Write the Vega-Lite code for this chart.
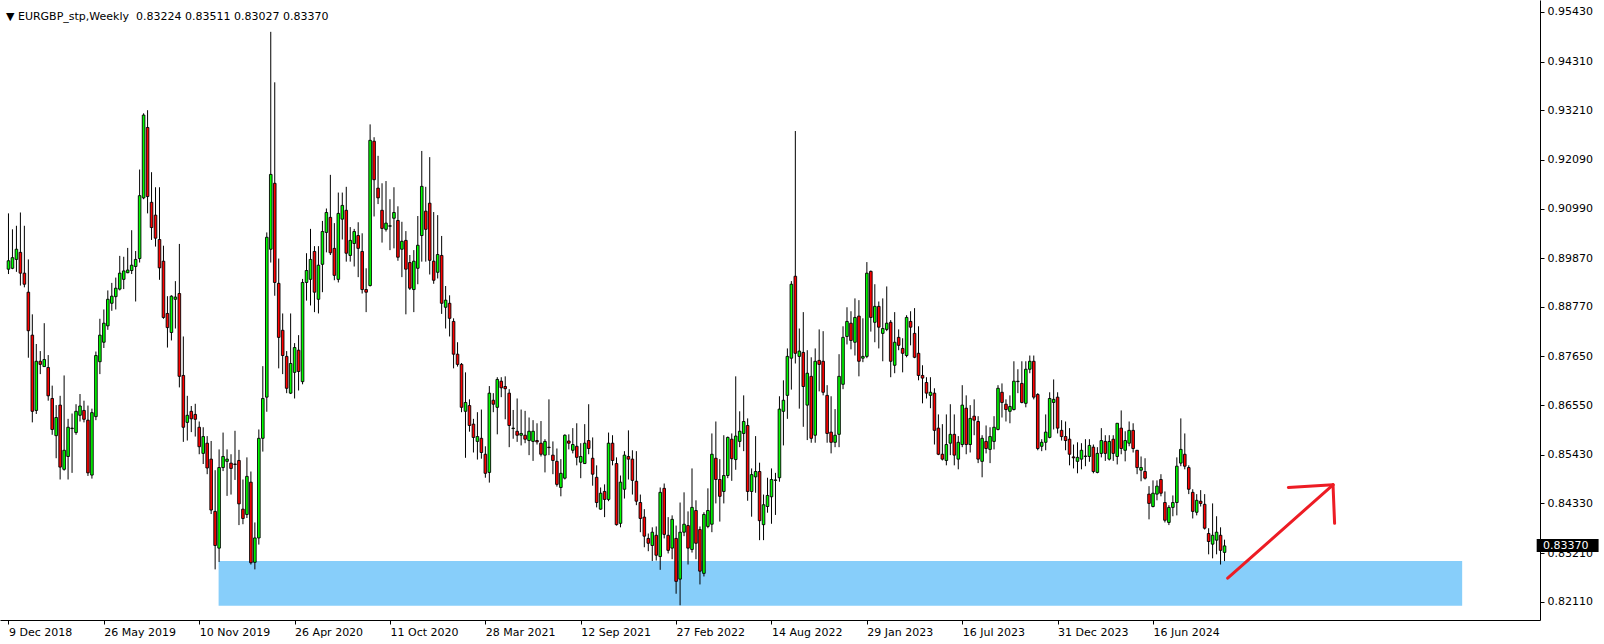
{
  "$schema": "https://vega.github.io/schema/vega-lite/v6.json",
  "width": 1540,
  "height": 620,
  "autosize": {"type": "none"},
  "padding": {"left": 0, "top": 0, "right": 64, "bottom": 24},
  "background": "white",
  "config": {"view": {"stroke": null}},
  "title": {"text": "▼ EURGBP_stp,Weekly\u00a0 0.83224 0.83511 0.83027 0.83370", "anchor": "start", "frame": "group", "orient": "top", "offset": -17, "dx": 6, "dy": 14, "font": "DejaVu Sans", "fontSize": 11, "fontWeight": "normal", "color": "black", "baseline": "alphabetic"},
  "datasets": {
    "candles": [
{"d":"2018-12-09","o":0.8962,"h":0.9088,"l":0.8951,"c":0.8981},
{"d":"2018-12-16","o":0.8964,"h":0.9052,"l":0.8962,"c":0.8988},
{"d":"2018-12-23","o":0.8984,"h":0.9060,"l":0.8956,"c":0.9007},
{"d":"2018-12-30","o":0.9000,"h":0.9090,"l":0.8925,"c":0.8953},
{"d":"2019-01-06","o":0.8953,"h":0.9060,"l":0.8921,"c":0.8928},
{"d":"2019-01-13","o":0.8910,"h":0.8984,"l":0.8762,"c":0.8823},
{"d":"2019-01-20","o":0.8813,"h":0.8860,"l":0.8616,"c":0.8641},
{"d":"2019-01-27","o":0.8643,"h":0.8793,"l":0.8635,"c":0.8754},
{"d":"2019-02-03","o":0.8754,"h":0.8777,"l":0.8725,"c":0.8747},
{"d":"2019-02-10","o":0.8742,"h":0.8840,"l":0.8742,"c":0.8758},
{"d":"2019-02-17","o":0.8740,"h":0.8768,"l":0.8665,"c":0.8676},
{"d":"2019-02-24","o":0.8670,"h":0.8699,"l":0.8588,"c":0.8600},
{"d":"2019-03-03","o":0.8586,"h":0.8655,"l":0.8535,"c":0.8627},
{"d":"2019-03-10","o":0.8655,"h":0.8676,"l":0.8487,"c":0.8515},
{"d":"2019-03-17","o":0.8510,"h":0.8722,"l":0.8507,"c":0.8553},
{"d":"2019-03-24","o":0.8539,"h":0.8624,"l":0.8487,"c":0.8605},
{"d":"2019-03-31","o":0.8602,"h":0.8636,"l":0.8502,"c":0.8603},
{"d":"2019-04-07","o":0.8593,"h":0.8657,"l":0.8588,"c":0.8641},
{"d":"2019-04-14","o":0.8632,"h":0.8680,"l":0.8618,"c":0.8653},
{"d":"2019-04-21","o":0.8643,"h":0.8665,"l":0.8616,"c":0.8623},
{"d":"2019-04-28","o":0.8621,"h":0.8654,"l":0.8495,"c":0.8502},
{"d":"2019-05-05","o":0.8497,"h":0.8647,"l":0.8489,"c":0.8638},
{"d":"2019-05-12","o":0.8629,"h":0.8776,"l":0.8621,"c":0.8767},
{"d":"2019-05-19","o":0.8753,"h":0.8850,"l":0.8725,"c":0.8813},
{"d":"2019-05-26","o":0.8797,"h":0.8871,"l":0.8784,"c":0.8840},
{"d":"2019-06-02","o":0.8834,"h":0.8914,"l":0.8825,"c":0.8894},
{"d":"2019-06-09","o":0.8885,"h":0.8931,"l":0.8868,"c":0.8901},
{"d":"2019-06-16","o":0.8900,"h":0.8943,"l":0.8871,"c":0.8919},
{"d":"2019-06-23","o":0.8917,"h":0.8992,"l":0.8914,"c":0.8953},
{"d":"2019-06-30","o":0.8939,"h":0.8990,"l":0.8917,"c":0.8958},
{"d":"2019-07-07","o":0.8954,"h":0.9010,"l":0.8953,"c":0.8960},
{"d":"2019-07-14","o":0.8959,"h":0.9050,"l":0.8951,"c":0.8971},
{"d":"2019-07-21","o":0.8968,"h":0.9003,"l":0.8889,"c":0.8984},
{"d":"2019-07-28","o":0.8986,"h":0.9187,"l":0.8977,"c":0.9128},
{"d":"2019-08-04","o":0.9123,"h":0.9314,"l":0.9120,"c":0.9310},
{"d":"2019-08-11","o":0.9282,"h":0.9321,"l":0.9088,"c":0.9126},
{"d":"2019-08-18","o":0.9113,"h":0.9181,"l":0.9028,"c":0.9056},
{"d":"2019-08-25","o":0.9084,"h":0.9147,"l":0.9013,"c":0.9032},
{"d":"2019-09-01","o":0.9029,"h":0.9147,"l":0.8938,"c":0.8965},
{"d":"2019-09-08","o":0.8980,"h":0.9015,"l":0.8850,"c":0.8853},
{"d":"2019-09-15","o":0.8862,"h":0.8901,"l":0.8785,"c":0.8830},
{"d":"2019-09-22","o":0.8819,"h":0.8903,"l":0.8801,"c":0.8901},
{"d":"2019-09-29","o":0.8894,"h":0.8935,"l":0.8828,"c":0.8899},
{"d":"2019-10-06","o":0.8907,"h":0.9019,"l":0.8695,"c":0.8720},
{"d":"2019-10-13","o":0.8722,"h":0.8810,"l":0.8572,"c":0.8605},
{"d":"2019-10-20","o":0.8616,"h":0.8676,"l":0.8575,"c":0.8632},
{"d":"2019-10-27","o":0.8641,"h":0.8653,"l":0.8594,"c":0.8624},
{"d":"2019-11-03","o":0.8634,"h":0.8658,"l":0.8584,"c":0.8623},
{"d":"2019-11-10","o":0.8605,"h":0.8618,"l":0.8544,"c":0.8561},
{"d":"2019-11-17","o":0.8546,"h":0.8605,"l":0.8522,"c":0.8584},
{"d":"2019-11-24","o":0.8569,"h":0.8585,"l":0.8499,"c":0.8513},
{"d":"2019-12-01","o":0.8533,"h":0.8574,"l":0.8409,"c":0.8418},
{"d":"2019-12-08","o":0.8415,"h":0.8508,"l":0.8284,"c":0.8338},
{"d":"2019-12-15","o":0.8332,"h":0.8555,"l":0.8301,"c":0.8514},
{"d":"2019-12-22","o":0.8514,"h":0.8593,"l":0.8506,"c":0.8539},
{"d":"2019-12-29","o":0.8528,"h":0.8555,"l":0.8450,"c":0.8533},
{"d":"2020-01-05","o":0.8524,"h":0.8544,"l":0.8453,"c":0.8512},
{"d":"2020-01-12","o":0.8522,"h":0.8597,"l":0.8486,"c":0.8521},
{"d":"2020-01-19","o":0.8530,"h":0.8554,"l":0.8384,"c":0.8432},
{"d":"2020-01-26","o":0.8420,"h":0.8487,"l":0.8386,"c":0.8399},
{"d":"2020-02-02","o":0.8408,"h":0.8537,"l":0.8400,"c":0.8494},
{"d":"2020-02-09","o":0.8481,"h":0.8505,"l":0.8295,"c":0.8299},
{"d":"2020-02-16","o":0.8300,"h":0.8390,"l":0.8284,"c":0.8355},
{"d":"2020-02-23","o":0.8355,"h":0.8600,"l":0.8340,"c":0.8580},
{"d":"2020-03-01","o":0.8580,"h":0.8743,"l":0.8550,"c":0.8670},
{"d":"2020-03-08","o":0.8673,"h":0.9045,"l":0.8640,"c":0.9034},
{"d":"2020-03-15","o":0.9007,"h":0.9498,"l":0.8977,"c":0.9176},
{"d":"2020-03-22","o":0.9156,"h":0.9384,"l":0.8902,"c":0.8932},
{"d":"2020-03-29","o":0.8930,"h":0.8986,"l":0.8738,"c":0.8808},
{"d":"2020-04-05","o":0.8824,"h":0.8862,"l":0.8725,"c":0.8767},
{"d":"2020-04-12","o":0.8765,"h":0.8777,"l":0.8682,"c":0.8693},
{"d":"2020-04-19","o":0.8682,"h":0.8862,"l":0.8680,"c":0.8749},
{"d":"2020-04-26","o":0.8729,"h":0.8795,"l":0.8670,"c":0.8785},
{"d":"2020-05-03","o":0.8779,"h":0.8813,"l":0.8688,"c":0.8731},
{"d":"2020-05-10","o":0.8708,"h":0.8940,"l":0.8702,"c":0.8932},
{"d":"2020-05-17","o":0.8932,"h":0.8998,"l":0.8891,"c":0.8959},
{"d":"2020-05-24","o":0.8939,"h":0.9053,"l":0.8880,"c":0.8984},
{"d":"2020-05-31","o":0.9002,"h":0.9014,"l":0.8865,"c":0.8910},
{"d":"2020-06-07","o":0.8894,"h":0.9014,"l":0.8862,"c":0.8971},
{"d":"2020-06-14","o":0.8973,"h":0.9071,"l":0.8910,"c":0.9047},
{"d":"2020-06-21","o":0.9045,"h":0.9099,"l":0.9000,"c":0.9090},
{"d":"2020-06-28","o":0.9079,"h":0.9175,"l":0.8994,"c":0.8999},
{"d":"2020-07-05","o":0.9009,"h":0.9066,"l":0.8937,"c":0.8948},
{"d":"2020-07-12","o":0.8939,"h":0.9135,"l":0.8932,"c":0.9088},
{"d":"2020-07-19","o":0.9075,"h":0.9135,"l":0.9029,"c":0.9106},
{"d":"2020-07-26","o":0.9095,"h":0.9148,"l":0.8979,"c":0.8998},
{"d":"2020-08-02","o":0.8993,"h":0.9057,"l":0.8979,"c":0.9027},
{"d":"2020-08-09","o":0.9020,"h":0.9053,"l":0.8968,"c":0.9047},
{"d":"2020-08-16","o":0.9038,"h":0.9068,"l":0.8944,"c":0.9009},
{"d":"2020-08-23","o":0.9002,"h":0.9043,"l":0.8907,"c":0.8916},
{"d":"2020-08-30","o":0.8916,"h":0.8964,"l":0.8865,"c":0.8910},
{"d":"2020-09-06","o":0.8925,"h":0.9289,"l":0.8923,"c":0.9253},
{"d":"2020-09-13","o":0.9251,"h":0.9260,"l":0.9081,"c":0.9164},
{"d":"2020-09-20","o":0.9145,"h":0.9218,"l":0.9109,"c":0.9123},
{"d":"2020-09-27","o":0.9095,"h":0.9156,"l":0.9022,"c":0.9054},
{"d":"2020-10-04","o":0.9052,"h":0.9161,"l":0.9047,"c":0.9066},
{"d":"2020-10-11","o":0.9059,"h":0.9120,"l":0.9005,"c":0.9060},
{"d":"2020-10-18","o":0.9077,"h":0.9147,"l":0.9009,"c":0.9090},
{"d":"2020-10-25","o":0.9072,"h":0.9104,"l":0.8981,"c":0.8989},
{"d":"2020-11-01","o":0.9007,"h":0.9069,"l":0.8944,"c":0.9025},
{"d":"2020-11-08","o":0.9027,"h":0.9048,"l":0.8860,"c":0.8962},
{"d":"2020-11-15","o":0.8977,"h":0.8994,"l":0.8915,"c":0.8919},
{"d":"2020-11-22","o":0.8916,"h":0.9005,"l":0.8865,"c":0.8980},
{"d":"2020-11-29","o":0.8964,"h":0.9082,"l":0.8928,"c":0.9016},
{"d":"2020-12-06","o":0.9038,"h":0.9229,"l":0.8979,"c":0.9149},
{"d":"2020-12-13","o":0.9093,"h":0.9148,"l":0.8979,"c":0.9052},
{"d":"2020-12-20","o":0.9111,"h":0.9215,"l":0.8950,"c":0.8982},
{"d":"2020-12-27","o":0.8980,"h":0.9091,"l":0.8929,"c":0.8937},
{"d":"2021-01-03","o":0.8955,"h":0.9084,"l":0.8941,"c":0.8995},
{"d":"2021-01-10","o":0.8993,"h":0.9037,"l":0.8861,"c":0.8885},
{"d":"2021-01-17","o":0.8876,"h":0.8924,"l":0.8828,"c":0.8892},
{"d":"2021-01-24","o":0.8885,"h":0.8903,"l":0.8810,"c":0.8851},
{"d":"2021-01-31","o":0.8844,"h":0.8851,"l":0.8738,"c":0.8770},
{"d":"2021-02-07","o":0.8770,"h":0.8797,"l":0.8742,"c":0.8747},
{"d":"2021-02-14","o":0.8747,"h":0.8750,"l":0.8639,"c":0.8650},
{"d":"2021-02-21","o":0.8641,"h":0.8729,"l":0.8536,"c":0.8661},
{"d":"2021-02-28","o":0.8654,"h":0.8668,"l":0.8595,"c":0.8609},
{"d":"2021-03-07","o":0.8612,"h":0.8624,"l":0.8548,"c":0.8582},
{"d":"2021-03-14","o":0.8573,"h":0.8639,"l":0.8532,"c":0.8584},
{"d":"2021-03-21","o":0.8580,"h":0.8645,"l":0.8534,"c":0.8548},
{"d":"2021-03-28","o":0.8544,"h":0.8562,"l":0.8491,"c":0.8501},
{"d":"2021-04-04","o":0.8503,"h":0.8698,"l":0.8480,"c":0.8682},
{"d":"2021-04-11","o":0.8666,"h":0.8682,"l":0.8639,"c":0.8657},
{"d":"2021-04-18","o":0.8650,"h":0.8718,"l":0.8589,"c":0.8713},
{"d":"2021-04-25","o":0.8709,"h":0.8718,"l":0.8673,"c":0.8694},
{"d":"2021-05-02","o":0.8697,"h":0.8720,"l":0.8623,"c":0.8692},
{"d":"2021-05-09","o":0.8682,"h":0.8691,"l":0.8560,"c":0.8609},
{"d":"2021-05-16","o":0.8602,"h":0.8644,"l":0.8579,"c":0.8603},
{"d":"2021-05-23","o":0.8596,"h":0.8670,"l":0.8572,"c":0.8587},
{"d":"2021-05-30","o":0.8587,"h":0.8645,"l":0.8564,"c":0.8591},
{"d":"2021-06-06","o":0.8587,"h":0.8642,"l":0.8569,"c":0.8578},
{"d":"2021-06-13","o":0.8575,"h":0.8627,"l":0.8542,"c":0.8596},
{"d":"2021-06-20","o":0.8573,"h":0.8621,"l":0.8529,"c":0.8596},
{"d":"2021-06-27","o":0.8575,"h":0.8614,"l":0.8566,"c":0.8572},
{"d":"2021-07-04","o":0.8569,"h":0.8619,"l":0.8539,"c":0.8544},
{"d":"2021-07-11","o":0.8542,"h":0.8578,"l":0.8503,"c":0.8573},
{"d":"2021-07-18","o":0.8560,"h":0.8668,"l":0.8542,"c":0.8559},
{"d":"2021-07-25","o":0.8542,"h":0.8573,"l":0.8499,"c":0.8530},
{"d":"2021-08-01","o":0.8528,"h":0.8557,"l":0.8471,"c":0.8476},
{"d":"2021-08-08","o":0.8469,"h":0.8533,"l":0.8449,"c":0.8501},
{"d":"2021-08-15","o":0.8490,"h":0.8589,"l":0.8487,"c":0.8587},
{"d":"2021-08-22","o":0.8574,"h":0.8589,"l":0.8555,"c":0.8569},
{"d":"2021-08-29","o":0.8553,"h":0.8603,"l":0.8546,"c":0.8566},
{"d":"2021-09-05","o":0.8562,"h":0.8614,"l":0.8519,"c":0.8537},
{"d":"2021-09-12","o":0.8526,"h":0.8569,"l":0.8490,"c":0.8539},
{"d":"2021-09-19","o":0.8523,"h":0.8612,"l":0.8522,"c":0.8569},
{"d":"2021-09-26","o":0.8575,"h":0.8657,"l":0.8544,"c":0.8557},
{"d":"2021-10-03","o":0.8535,"h":0.8582,"l":0.8473,"c":0.8499},
{"d":"2021-10-10","o":0.8492,"h":0.8519,"l":0.8424,"c":0.8435},
{"d":"2021-10-17","o":0.8420,"h":0.8469,"l":0.8419,"c":0.8456},
{"d":"2021-10-24","o":0.8460,"h":0.8476,"l":0.8402,"c":0.8442},
{"d":"2021-10-31","o":0.8442,"h":0.8593,"l":0.8438,"c":0.8569},
{"d":"2021-11-07","o":0.8569,"h":0.8587,"l":0.8519,"c":0.8530},
{"d":"2021-11-14","o":0.8523,"h":0.8537,"l":0.8383,"c":0.8385},
{"d":"2021-11-21","o":0.8388,"h":0.8496,"l":0.8379,"c":0.8481},
{"d":"2021-11-28","o":0.8465,"h":0.8551,"l":0.8444,"c":0.8542},
{"d":"2021-12-05","o":0.8539,"h":0.8598,"l":0.8487,"c":0.8533},
{"d":"2021-12-12","o":0.8533,"h":0.8553,"l":0.8453,"c":0.8485},
{"d":"2021-12-19","o":0.8483,"h":0.8551,"l":0.8429,"c":0.8438},
{"d":"2021-12-26","o":0.8435,"h":0.8453,"l":0.8368,"c":0.8399},
{"d":"2022-01-02","o":0.8402,"h":0.8420,"l":0.8334,"c":0.8359},
{"d":"2022-01-09","o":0.8354,"h":0.8365,"l":0.8325,"c":0.8343},
{"d":"2022-01-16","o":0.8338,"h":0.8379,"l":0.8303,"c":0.8368},
{"d":"2022-01-23","o":0.8361,"h":0.8381,"l":0.8304,"c":0.8316},
{"d":"2022-01-30","o":0.8313,"h":0.8469,"l":0.8283,"c":0.8458},
{"d":"2022-02-06","o":0.8467,"h":0.8478,"l":0.8354,"c":0.8363},
{"d":"2022-02-13","o":0.8361,"h":0.8402,"l":0.8320,"c":0.8327},
{"d":"2022-02-20","o":0.8332,"h":0.8406,"l":0.8307,"c":0.8397},
{"d":"2022-02-27","o":0.8354,"h":0.8383,"l":0.8229,"c":0.8257},
{"d":"2022-03-06","o":0.8262,"h":0.8435,"l":0.8203,"c":0.8368},
{"d":"2022-03-13","o":0.8368,"h":0.8458,"l":0.8359,"c":0.8386},
{"d":"2022-03-20","o":0.8383,"h":0.8415,"l":0.8295,"c":0.8332},
{"d":"2022-03-27","o":0.8329,"h":0.8512,"l":0.8322,"c":0.8424},
{"d":"2022-04-03","o":0.8417,"h":0.8440,"l":0.8307,"c":0.8343},
{"d":"2022-04-10","o":0.8374,"h":0.8381,"l":0.8250,"c":0.8280},
{"d":"2022-04-17","o":0.8275,"h":0.8413,"l":0.8268,"c":0.8408},
{"d":"2022-04-24","o":0.8381,"h":0.8467,"l":0.8377,"c":0.8417},
{"d":"2022-05-01","o":0.8386,"h":0.8591,"l":0.8368,"c":0.8544},
{"d":"2022-05-08","o":0.8535,"h":0.8618,"l":0.8433,"c":0.8487},
{"d":"2022-05-15","o":0.8487,"h":0.8533,"l":0.8392,"c":0.8449},
{"d":"2022-05-22","o":0.8460,"h":0.8587,"l":0.8433,"c":0.8496},
{"d":"2022-05-29","o":0.8496,"h":0.8584,"l":0.8490,"c":0.8582},
{"d":"2022-06-05","o":0.8578,"h":0.8591,"l":0.8484,"c":0.8534},
{"d":"2022-06-12","o":0.8532,"h":0.8720,"l":0.8509,"c":0.8585},
{"d":"2022-06-19","o":0.8573,"h":0.8641,"l":0.8560,"c":0.8596},
{"d":"2022-06-26","o":0.8591,"h":0.8677,"l":0.8551,"c":0.8618},
{"d":"2022-07-03","o":0.8609,"h":0.8625,"l":0.8439,"c":0.8460},
{"d":"2022-07-10","o":0.8460,"h":0.8512,"l":0.8403,"c":0.8498},
{"d":"2022-07-17","o":0.8493,"h":0.8585,"l":0.8457,"c":0.8505},
{"d":"2022-07-24","o":0.8505,"h":0.8525,"l":0.8350,"c":0.8394},
{"d":"2022-07-31","o":0.8385,"h":0.8453,"l":0.8350,"c":0.8430},
{"d":"2022-08-07","o":0.8426,"h":0.8491,"l":0.8412,"c":0.8451},
{"d":"2022-08-14","o":0.8448,"h":0.8512,"l":0.8387,"c":0.8487},
{"d":"2022-08-21","o":0.8485,"h":0.8502,"l":0.8407,"c":0.8486},
{"d":"2022-08-28","o":0.8491,"h":0.8675,"l":0.8482,"c":0.8646},
{"d":"2022-09-04","o":0.8641,"h":0.8711,"l":0.8564,"c":0.8666},
{"d":"2022-09-11","o":0.8677,"h":0.8783,"l":0.8624,"c":0.8765},
{"d":"2022-09-18","o":0.8761,"h":0.8935,"l":0.8690,"c":0.8928},
{"d":"2022-09-25","o":0.8946,"h":0.9274,"l":0.8749,"c":0.8772},
{"d":"2022-10-02","o":0.8765,"h":0.8828,"l":0.8647,"c":0.8777},
{"d":"2022-10-09","o":0.8774,"h":0.8865,"l":0.8606,"c":0.8697},
{"d":"2022-10-16","o":0.8655,"h":0.8779,"l":0.8576,"c":0.8727},
{"d":"2022-10-23","o":0.8720,"h":0.8763,"l":0.8570,"c":0.8580},
{"d":"2022-10-30","o":0.8587,"h":0.8783,"l":0.8570,"c":0.8754},
{"d":"2022-11-06","o":0.8756,"h":0.8826,"l":0.8686,"c":0.8747},
{"d":"2022-11-13","o":0.8754,"h":0.8822,"l":0.8677,"c":0.8684},
{"d":"2022-11-20","o":0.8677,"h":0.8700,"l":0.8570,"c":0.8591},
{"d":"2022-11-27","o":0.8594,"h":0.8675,"l":0.8546,"c":0.8571},
{"d":"2022-12-04","o":0.8571,"h":0.8646,"l":0.8560,"c":0.8587},
{"d":"2022-12-11","o":0.8589,"h":0.8770,"l":0.8560,"c":0.8720},
{"d":"2022-12-18","o":0.8702,"h":0.8833,"l":0.8691,"c":0.8808},
{"d":"2022-12-25","o":0.8810,"h":0.8876,"l":0.8792,"c":0.8844},
{"d":"2023-01-01","o":0.8840,"h":0.8867,"l":0.8781,"c":0.8801},
{"d":"2023-01-08","o":0.8797,"h":0.8896,"l":0.8767,"c":0.8853},
{"d":"2023-01-15","o":0.8856,"h":0.8892,"l":0.8720,"c":0.8754},
{"d":"2023-01-22","o":0.8761,"h":0.8851,"l":0.8752,"c":0.8765},
{"d":"2023-01-29","o":0.8765,"h":0.8978,"l":0.8761,"c":0.8953},
{"d":"2023-02-05","o":0.8957,"h":0.8959,"l":0.8821,"c":0.8853},
{"d":"2023-02-12","o":0.8842,"h":0.8928,"l":0.8797,"c":0.8878},
{"d":"2023-02-19","o":0.8878,"h":0.8889,"l":0.8783,"c":0.8831},
{"d":"2023-02-26","o":0.8817,"h":0.8896,"l":0.8754,"c":0.8828},
{"d":"2023-03-05","o":0.8826,"h":0.8923,"l":0.8822,"c":0.8840},
{"d":"2023-03-12","o":0.8842,"h":0.8847,"l":0.8718,"c":0.8754},
{"d":"2023-03-19","o":0.8745,"h":0.8865,"l":0.8727,"c":0.8797},
{"d":"2023-03-26","o":0.8808,"h":0.8826,"l":0.8779,"c":0.8790},
{"d":"2023-04-02","o":0.8783,"h":0.8806,"l":0.8729,"c":0.8772},
{"d":"2023-04-09","o":0.8767,"h":0.8858,"l":0.8763,"c":0.8853},
{"d":"2023-04-16","o":0.8844,"h":0.8867,"l":0.8790,"c":0.8831},
{"d":"2023-04-23","o":0.8817,"h":0.8874,"l":0.8761,"c":0.8763},
{"d":"2023-04-30","o":0.8772,"h":0.8833,"l":0.8711,"c":0.8722},
{"d":"2023-05-07","o":0.8722,"h":0.8745,"l":0.8659,"c":0.8716},
{"d":"2023-05-14","o":0.8706,"h":0.8718,"l":0.8670,"c":0.8682},
{"d":"2023-05-21","o":0.8677,"h":0.8718,"l":0.8648,"c":0.8684},
{"d":"2023-05-28","o":0.8682,"h":0.8693,"l":0.8566,"c":0.8598},
{"d":"2023-06-04","o":0.8603,"h":0.8634,"l":0.8542,"c":0.8544},
{"d":"2023-06-11","o":0.8544,"h":0.8612,"l":0.8530,"c":0.8533},
{"d":"2023-06-18","o":0.8530,"h":0.8634,"l":0.8519,"c":0.8566},
{"d":"2023-06-25","o":0.8569,"h":0.8657,"l":0.8542,"c":0.8589},
{"d":"2023-07-02","o":0.8589,"h":0.8634,"l":0.8519,"c":0.8542},
{"d":"2023-07-09","o":0.8533,"h":0.8585,"l":0.8510,"c":0.8571},
{"d":"2023-07-16","o":0.8566,"h":0.8700,"l":0.8560,"c":0.8655},
{"d":"2023-07-23","o":0.8648,"h":0.8677,"l":0.8544,"c":0.8566},
{"d":"2023-07-30","o":0.8566,"h":0.8655,"l":0.8548,"c":0.8625},
{"d":"2023-08-06","o":0.8630,"h":0.8668,"l":0.8587,"c":0.8621},
{"d":"2023-08-13","o":0.8618,"h":0.8630,"l":0.8524,"c":0.8533},
{"d":"2023-08-20","o":0.8528,"h":0.8587,"l":0.8492,"c":0.8580},
{"d":"2023-08-27","o":0.8573,"h":0.8609,"l":0.8546,"c":0.8557},
{"d":"2023-09-03","o":0.8555,"h":0.8605,"l":0.8524,"c":0.8584},
{"d":"2023-09-10","o":0.8573,"h":0.8630,"l":0.8555,"c":0.8605},
{"d":"2023-09-17","o":0.8600,"h":0.8700,"l":0.8598,"c":0.8693},
{"d":"2023-09-24","o":0.8684,"h":0.8704,"l":0.8627,"c":0.8661},
{"d":"2023-10-01","o":0.8657,"h":0.8668,"l":0.8618,"c":0.8645},
{"d":"2023-10-08","o":0.8641,"h":0.8677,"l":0.8614,"c":0.8652},
{"d":"2023-10-15","o":0.8645,"h":0.8754,"l":0.8643,"c":0.8709},
{"d":"2023-10-22","o":0.8708,"h":0.8736,"l":0.8682,"c":0.8709},
{"d":"2023-10-29","o":0.8704,"h":0.8754,"l":0.8659,"c":0.8661},
{"d":"2023-11-05","o":0.8659,"h":0.8754,"l":0.8650,"c":0.8736},
{"d":"2023-11-12","o":0.8736,"h":0.8767,"l":0.8727,"c":0.8754},
{"d":"2023-11-19","o":0.8754,"h":0.8767,"l":0.8668,"c":0.8673},
{"d":"2023-11-26","o":0.8679,"h":0.8682,"l":0.8553,"c":0.8557},
{"d":"2023-12-03","o":0.8562,"h":0.8578,"l":0.8551,"c":0.8571},
{"d":"2023-12-10","o":0.8571,"h":0.8634,"l":0.8553,"c":0.8594},
{"d":"2023-12-17","o":0.8582,"h":0.8684,"l":0.8580,"c":0.8670},
{"d":"2023-12-24","o":0.8661,"h":0.8713,"l":0.8600,"c":0.8668},
{"d":"2023-12-31","o":0.8673,"h":0.8684,"l":0.8591,"c":0.8603},
{"d":"2024-01-07","o":0.8598,"h":0.8621,"l":0.8575,"c":0.8584},
{"d":"2024-01-14","o":0.8584,"h":0.8618,"l":0.8553,"c":0.8575},
{"d":"2024-01-21","o":0.8578,"h":0.8603,"l":0.8519,"c":0.8544},
{"d":"2024-01-28","o":0.8538,"h":0.8566,"l":0.8512,"c":0.8536},
{"d":"2024-02-04","o":0.8528,"h":0.8571,"l":0.8501,"c":0.8537},
{"d":"2024-02-11","o":0.8533,"h":0.8569,"l":0.8510,"c":0.8553},
{"d":"2024-02-18","o":0.8539,"h":0.8578,"l":0.8517,"c":0.8540},
{"d":"2024-02-25","o":0.8539,"h":0.8578,"l":0.8527,"c":0.8564},
{"d":"2024-03-03","o":0.8560,"h":0.8566,"l":0.8501,"c":0.8505},
{"d":"2024-03-10","o":0.8503,"h":0.8560,"l":0.8501,"c":0.8546},
{"d":"2024-03-17","o":0.8546,"h":0.8603,"l":0.8537,"c":0.8575},
{"d":"2024-03-24","o":0.8573,"h":0.8587,"l":0.8529,"c":0.8546},
{"d":"2024-03-31","o":0.8533,"h":0.8587,"l":0.8530,"c":0.8573},
{"d":"2024-04-07","o":0.8578,"h":0.8587,"l":0.8529,"c":0.8546},
{"d":"2024-04-14","o":0.8539,"h":0.8614,"l":0.8521,"c":0.8614},
{"d":"2024-04-21","o":0.8603,"h":0.8643,"l":0.8544,"c":0.8557},
{"d":"2024-04-28","o":0.8553,"h":0.8596,"l":0.8528,"c":0.8575},
{"d":"2024-05-05","o":0.8569,"h":0.8618,"l":0.8562,"c":0.8598},
{"d":"2024-05-12","o":0.8598,"h":0.8614,"l":0.8548,"c":0.8557},
{"d":"2024-05-19","o":0.8553,"h":0.8553,"l":0.8499,"c":0.8514},
{"d":"2024-05-26","o":0.8508,"h":0.8539,"l":0.8483,"c":0.8514},
{"d":"2024-06-02","o":0.8505,"h":0.8535,"l":0.8487,"c":0.8490},
{"d":"2024-06-09","o":0.8454,"h":0.8472,"l":0.8397,"c":0.8433},
{"d":"2024-06-16","o":0.8426,"h":0.8485,"l":0.8424,"c":0.8456},
{"d":"2024-06-23","o":0.8454,"h":0.8485,"l":0.8440,"c":0.8472},
{"d":"2024-06-30","o":0.8487,"h":0.8499,"l":0.8449,"c":0.8456},
{"d":"2024-07-07","o":0.8435,"h":0.8460,"l":0.8390,"c":0.8395},
{"d":"2024-07-14","o":0.8390,"h":0.8429,"l":0.8384,"c":0.8424},
{"d":"2024-07-21","o":0.8424,"h":0.8451,"l":0.8404,"c":0.8435},
{"d":"2024-07-28","o":0.8435,"h":0.8537,"l":0.8406,"c":0.8517},
{"d":"2024-08-04","o":0.8524,"h":0.8625,"l":0.8517,"c":0.8555},
{"d":"2024-08-11","o":0.8544,"h":0.8591,"l":0.8510,"c":0.8517},
{"d":"2024-08-18","o":0.8514,"h":0.8519,"l":0.8454,"c":0.8465},
{"d":"2024-08-25","o":0.8458,"h":0.8465,"l":0.8399,"c":0.8415},
{"d":"2024-09-01","o":0.8413,"h":0.8454,"l":0.8406,"c":0.8440},
{"d":"2024-09-08","o":0.8438,"h":0.8463,"l":0.8426,"c":0.8433},
{"d":"2024-09-15","o":0.8431,"h":0.8454,"l":0.8374,"c":0.8377},
{"d":"2024-09-22","o":0.8365,"h":0.8377,"l":0.8318,"c":0.8347},
{"d":"2024-09-29","o":0.8341,"h":0.8433,"l":0.8309,"c":0.8361},
{"d":"2024-10-06","o":0.8350,"h":0.8404,"l":0.8318,"c":0.8368},
{"d":"2024-10-13","o":0.8361,"h":0.8379,"l":0.8295,"c":0.8327},
{"d":"2024-10-20","o":0.83224,"h":0.83511,"l":0.83027,"c":0.8337}
    ],
    "zone": [{"x1": "2019-12-14T03:00:00Z", "x2": "2025-12-12T14:00:00Z", "p1": 0.8303, "p2": 0.8202}],
    "arrow": [
      {"x1": "2024-10-25T14:00:00Z", "p1": 0.8264, "x2": "2025-04-29T02:00:00Z", "p2": 0.8475},
      {"x1": "2025-02-09T09:00:00Z", "p1": 0.8469, "x2": "2025-04-29T02:00:00Z", "p2": 0.8475},
      {"x1": "2025-04-29T02:00:00Z", "p1": 0.8475, "x2": "2025-05-01T21:00:00Z", "p2": 0.8388}
    ],
    "pricebox": [{"x1": "2026-04-22T20:00:00Z", "x2": "2026-08-09T21:00:00Z", "p1": 0.83526, "p2": 0.83232, "t": "2026-05-04T00:00:00Z", "p": 0.8337, "label": "0.83370"}]
  },
  "layer": [
    {
      "data": {"name": "zone"},
      "mark": {"type": "rect", "color": "#87cefa"},
      "encoding": {
        "x": {"field": "x1", "type": "temporal", "title": null, "scale": {"type": "utc", "domain": [{"year": 2018, "month": 12, "date": 2, "hours": 21, "utc": true}, {"year": 2026, "month": 4, "date": 19, "hours": 21, "utc": true}]}},
        "x2": {"field": "x2"},
        "y": {"field": "p1", "type": "quantitative", "title": null, "scale": {"domain": [0.81697, 0.95699], "zero": false, "nice": false}},
        "y2": {"field": "p2"}
      }
    },
    {
      "data": {"name": "candles"},
      "mark": {"type": "rule", "color": "black", "strokeWidth": 1},
      "encoding": {
        "x": {"field": "d", "type": "temporal", "title": null,
          "scale": {"type": "utc", "domain": [{"year": 2018, "month": 12, "date": 2, "hours": 21, "utc": true}, {"year": 2026, "month": 4, "date": 19, "hours": 21, "utc": true}]},
          "axis": {"orient": "bottom", "title": null, "grid": false, "format": "%-d %b %Y", "labelAlign": "left", "labelDx": -1, "labelFont": "DejaVu Sans", "labelFontSize": 11, "labelColor": "black", "domainColor": "black", "tickColor": "black", "tickSize": 4, "labelPadding": 2, "labelFlush": false, "labelOverlap": false,
            "values": [
              {"year": 2018, "month": 12, "date": 9, "utc": true},
              {"year": 2019, "month": 5, "date": 26, "utc": true},
              {"year": 2019, "month": 11, "date": 10, "utc": true},
              {"year": 2020, "month": 4, "date": 26, "utc": true},
              {"year": 2020, "month": 10, "date": 11, "utc": true},
              {"year": 2021, "month": 3, "date": 28, "utc": true},
              {"year": 2021, "month": 9, "date": 12, "utc": true},
              {"year": 2022, "month": 2, "date": 27, "utc": true},
              {"year": 2022, "month": 8, "date": 14, "utc": true},
              {"year": 2023, "month": 1, "date": 29, "utc": true},
              {"year": 2023, "month": 7, "date": 16, "utc": true},
              {"year": 2023, "month": 12, "date": 31, "utc": true},
              {"year": 2024, "month": 6, "date": 16, "utc": true}
            ]}},
        "y": {"field": "l", "type": "quantitative", "title": null,
          "scale": {"domain": [0.81697, 0.95699], "zero": false, "nice": false},
          "axis": {"orient": "right", "title": null, "grid": false, "format": ".5f", "labelFont": "DejaVu Sans", "labelFontSize": 11, "labelColor": "black", "domainColor": "black", "tickColor": "black", "tickSize": 4, "labelPadding": 3, "labelFlush": false, "labelOverlap": false,
            "values": [0.8211, 0.8321, 0.8433, 0.8543, 0.8655, 0.8765, 0.8877, 0.8987, 0.9099, 0.9209, 0.9321, 0.9431, 0.9543]}},
        "y2": {"field": "h"}
      }
    },
    {
      "data": {"name": "candles"},
      "mark": {"type": "bar", "width": 2.6, "stroke": "black", "strokeWidth": 0.9},
      "encoding": {
        "x": {"field": "d", "type": "temporal", "title": null, "scale": {"type": "utc", "domain": [{"year": 2018, "month": 12, "date": 2, "hours": 21, "utc": true}, {"year": 2026, "month": 4, "date": 19, "hours": 21, "utc": true}]}},
        "y": {"field": "o", "type": "quantitative", "title": null, "scale": {"domain": [0.81697, 0.95699], "zero": false, "nice": false}},
        "y2": {"field": "c"},
        "fill": {"condition": {"test": "datum.c >= datum.o", "value": "#00ff00"}, "value": "#ff0000"}
      }
    },
    {
      "data": {"name": "arrow"},
      "mark": {"type": "rule", "color": "#ed1c24", "strokeWidth": 3, "strokeCap": "round"},
      "encoding": {
        "x": {"field": "x1", "type": "temporal", "title": null, "scale": {"type": "utc", "domain": [{"year": 2018, "month": 12, "date": 2, "hours": 21, "utc": true}, {"year": 2026, "month": 4, "date": 19, "hours": 21, "utc": true}]}},
        "x2": {"field": "x2"},
        "y": {"field": "p1", "type": "quantitative", "title": null, "scale": {"domain": [0.81697, 0.95699], "zero": false, "nice": false}},
        "y2": {"field": "p2"}
      }
    },
    {
      "data": {"name": "pricebox"},
      "mark": {"type": "rect", "color": "black"},
      "encoding": {
        "x": {"field": "x1", "type": "temporal", "title": null, "scale": {"type": "utc", "domain": [{"year": 2018, "month": 12, "date": 2, "hours": 21, "utc": true}, {"year": 2026, "month": 4, "date": 19, "hours": 21, "utc": true}]}},
        "x2": {"field": "x2"},
        "y": {"field": "p1", "type": "quantitative", "title": null, "scale": {"domain": [0.81697, 0.95699], "zero": false, "nice": false}},
        "y2": {"field": "p2"}
      }
    },
    {
      "data": {"name": "pricebox"},
      "mark": {"type": "text", "color": "white", "font": "DejaVu Sans", "fontSize": 11, "align": "left", "baseline": "middle"},
      "encoding": {
        "x": {"field": "t", "type": "temporal", "title": null, "scale": {"type": "utc", "domain": [{"year": 2018, "month": 12, "date": 2, "hours": 21, "utc": true}, {"year": 2026, "month": 4, "date": 19, "hours": 21, "utc": true}]}},
        "y": {"field": "p", "type": "quantitative", "title": null, "scale": {"domain": [0.81697, 0.95699], "zero": false, "nice": false}},
        "text": {"field": "label"}
      }
    }
  ]
}
